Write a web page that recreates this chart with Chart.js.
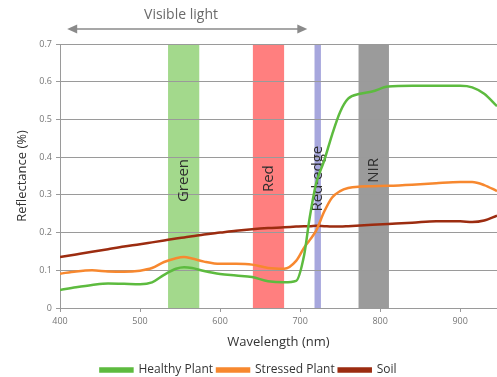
<!DOCTYPE html>
<html>
<head>
<meta charset="utf-8">
<script src="https://cdn.jsdelivr.net/npm/chart.js@4.4.0/dist/chart.umd.min.js"></script>
<style>
  html, body { margin: 0; padding: 0; background: #fff; }
  #wrap { width: 497px; height: 377px; }
</style>
</head>
<body>
<div id="wrap"><canvas id="spectra"></canvas></div>
<script>
// wavelengths (nm) shared by the three curves
var wavelength = [400,420,440,460,480,500,515,530,545,555,565,580,600,620,640,660,680,695,705,712,720,730,740,750,760,775,790,810,840,870,900,915,930,946];

var healthy = [0.048,0.055,0.061,0.065,0.064,0.063,0.068,0.088,0.104,0.108,0.106,0.098,0.090,0.086,0.082,0.071,0.068,0.072,0.140,0.240,0.330,0.390,0.460,0.520,0.555,0.568,0.574,0.587,0.589,0.589,0.589,0.585,0.568,0.535];
var stressed = [0.091,0.097,0.100,0.097,0.096,0.099,0.106,0.122,0.132,0.135,0.131,0.123,0.117,0.117,0.115,0.106,0.104,0.125,0.160,0.180,0.205,0.255,0.293,0.310,0.318,0.322,0.323,0.324,0.327,0.331,0.334,0.334,0.326,0.310];
var soil = [0.135,0.142,0.149,0.156,0.163,0.169,0.174,0.179,0.184,0.187,0.190,0.195,0.200,0.205,0.209,0.212,0.214,0.216,0.217,0.217,0.218,0.217,0.216,0.216,0.217,0.219,0.221,0.223,0.226,0.230,0.230,0.228,0.232,0.245];

var xTicks = [400,500,600,700,800,900];
var yTicks = [0,0.1,0.2,0.3,0.4,0.5,0.6,0.7];

// spectral bands [from, to] in nm
var bandNames = ['Green','Red','Red-edge','NIR'];
var bandFrom = [535,641,718,773];
var bandTo = [574,680,726,811];
var bandColors = ['#a3d98c','#ff7f7f','#a7a7dd','#9b9b9b'];
var bandLabelY = [0.338,0.343,0.343,0.365];

var visibleLight = [409,709];

function pts(ys) {
  var out = [];
  for (var i in wavelength) out.push({x: wavelength[i], y: ys[i]});
  return out;
}

var bandsPlugin = {
  id: 'bands',
  beforeDraw: function(chart) {
    var ctx = chart.ctx, xs = chart.scales.x, ca = chart.chartArea;
    ctx.save();
    for (var i = 0; i < bandNames.length; i++) {
      var a = xs.getPixelForValue(bandFrom[i]);
      var b = xs.getPixelForValue(bandTo[i]);
      ctx.fillStyle = bandColors[i];
      ctx.fillRect(a, ca.top, b - a, ca.bottom - ca.top);
    }
    ctx.restore();
  },
  beforeDatasetsDraw: function(chart) {
    var ctx = chart.ctx, xs = chart.scales.x, ys = chart.scales.y;
    ctx.save();
    ctx.fillStyle = '#2e2e2e';
    ctx.font = '15px "Open Sans", sans-serif';
    ctx.textAlign = 'center';
    ctx.textBaseline = 'middle';
    for (var i = 0; i < bandNames.length; i++) {
      var cx = xs.getPixelForValue((bandFrom[i] + bandTo[i]) / 2);
      var cy = ys.getPixelForValue(bandLabelY[i]);
      ctx.save();
      ctx.translate(cx, cy);
      ctx.rotate(-Math.PI / 2);
      ctx.fillText(bandNames[i], 0, 0);
      ctx.restore();
    }
    // visible light arrow
    var x1 = xs.getPixelForValue(visibleLight[0]);
    var x2 = xs.getPixelForValue(visibleLight[1]);
    var y = 29;
    ctx.strokeStyle = '#8a8a8a';
    ctx.fillStyle = '#8a8a8a';
    ctx.lineWidth = 1.5;
    ctx.beginPath();
    ctx.moveTo(x1 + 8, y);
    ctx.lineTo(x2 - 8, y);
    ctx.stroke();
    ctx.beginPath();
    ctx.moveTo(x1, y); ctx.lineTo(x1 + 10, y - 4.5); ctx.lineTo(x1 + 10, y + 4.5); ctx.closePath();
    ctx.fill();
    ctx.beginPath();
    ctx.moveTo(x2, y); ctx.lineTo(x2 - 10, y - 4.5); ctx.lineTo(x2 - 10, y + 4.5); ctx.closePath();
    ctx.fill();
    ctx.fillStyle = '#6a6a6a';
    ctx.font = '14px "Open Sans", sans-serif';
    ctx.fillText('Visible light', 181, 15);
    ctx.restore();
  }
};

var chart = new Chart(document.getElementById('spectra'), {
  type: 'line',
  data: {
    datasets: [
      {label: 'Healthy Plant', data: pts(healthy), borderColor: '#5dbb3f', backgroundColor: '#5dbb3f'},
      {label: 'Stressed Plant', data: pts(stressed), borderColor: '#f7882f', backgroundColor: '#f7882f'},
      {label: 'Soil', data: pts(soil), borderColor: '#9c2c10', backgroundColor: '#9c2c10'}
    ]
  },
  options: {
    responsive: true,
    maintainAspectRatio: false,
    animation: false,
    layout: {padding: {top: 44, right: 0, left: 0, bottom: -9}},
    elements: {
      point: {radius: 0},
      line: {borderWidth: 2.5, cubicInterpolationMode: 'monotone'}
    },
    plugins: {
      tooltip: {enabled: false},
      legend: {
        position: 'bottom',
        labels: {
          boxWidth: 32, boxHeight: 3, padding: 4,
          color: '#333',
          font: {family: '"Open Sans", sans-serif', size: 12}
        }
      }
    },
    scales: {
      x: {
        type: 'linear', min: 400, max: 946,
        afterBuildTicks: function(s) { s.ticks = xTicks.map(function(v) { return {value: v}; }); },
        afterFit: function(s) { s.height = 52; },
        grid: {display: true, drawOnChartArea: false, drawTicks: true, tickLength: 4, color: '#999'},
        border: {display: false},
        ticks: {color: '#777', font: {family: '"Open Sans", sans-serif', size: 9}, padding: 4, maxRotation: 0},
        title: {display: true, text: 'Wavelength (nm)', color: '#333', font: {family: '"Open Sans", sans-serif', size: 13}, padding: {top: 0, bottom: 10}}
      },
      y: {
        min: 0, max: 0.7,
        afterBuildTicks: function(s) { s.ticks = yTicks.map(function(v) { return {value: v}; }); },
        afterFit: function(s) { s.width = 60; },
        grid: {color: '#9a9a9a', lineWidth: 1, tickLength: 4},
        border: {display: true, color: '#9a9a9a'},
        ticks: {color: '#777', font: {family: '"Open Sans", sans-serif', size: 9}, padding: 4},
        title: {display: true, text: 'Reflectance (%)', color: '#333', font: {family: '"Open Sans", sans-serif', size: 13}, padding: {top: 14, bottom: 0}}
      }
    }
  },
  plugins: [bandsPlugin]
});
</script>
</body>
</html>
